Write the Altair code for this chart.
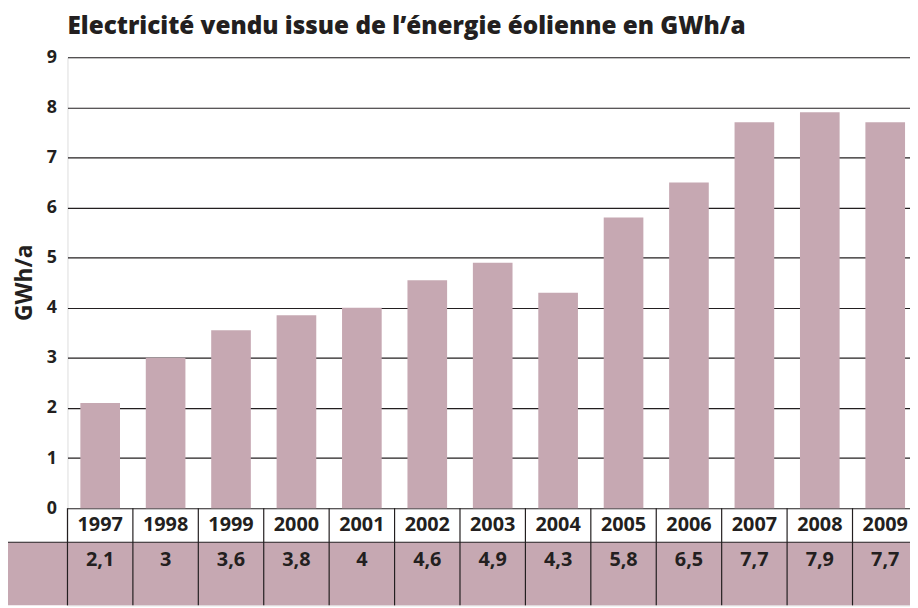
import altair as alt
import pandas as pd

# ---- data ----
years = ["1997", "1998", "1999", "2000", "2001", "2002", "2003",
         "2004", "2005", "2006", "2007", "2008", "2009"]
values = [2.1, 3.0, 3.55, 3.85, 4.0, 4.55, 4.9, 4.3, 5.8, 6.5, 7.7, 7.9, 7.7]
value_labels = ["2,1", "3", "3,6", "3,8", "4", "4,6", "4,9",
                "4,3", "5,8", "6,5", "7,7", "7,9", "7,7"]
y_ticks = [0, 1, 2, 3, 4, 5, 6, 7, 8, 9]

TITLE = "Electricité vendu issue de l’énergie éolienne en GWh/a"
Y_TITLE = "GWh/a"

# ---- layout / style constants ----
FONT = "Open Sans"
INK = "#231f20"
BAR = "#c6a8b2"
ROW_SPLIT = -0.68     # boundary between year row and value row (y units)
TABLE_BOTTOM = -1.94  # bottom of the table (y units)
YEAR_TEXT_Y = -0.34
VALUE_TEXT_Y = -1.04

df = pd.DataFrame({"year": years, "value": values, "label": value_labels})
one = pd.DataFrame({"title": [TITLE]})

x_scale = alt.Scale(domain=years, range=[0, 858], paddingInner=0, paddingOuter=0)
y_scale = alt.Scale(domain=[TABLE_BOTTOM, 9], nice=False, zero=False)

base = alt.Chart(df)

bars = base.mark_bar(color=BAR, width={"band": 40 / 66}).encode(
    x=alt.X("year:N", scale=x_scale, axis=None, sort=years),
    y=alt.Y(
        "value:Q",
        scale=y_scale,
        axis=alt.Axis(
            values=y_ticks,
            grid=True,
            gridColor=INK,
            gridWidth=1.2,
            gridOpacity=1,
            domain=False,
            ticks=False,
            labelPadding=11,
            labelFont=FONT,
            labelFontSize=18,
            labelFontWeight="bold",
            labelColor=INK,
            title=Y_TITLE,
            titleFont=FONT,
            titleFontSize=23,
            titleFontWeight="bold",
            titleColor=INK,
            titleAngle=270,
            titleX=-43,
            titleY=227,
            titleBaseline="middle",
            titleAlign="center",
        ),
    ),
    y2=alt.Y2(datum=0),
)

value_row = alt.Chart(one).mark_rect(color=BAR).encode(
    x=alt.value(-60),
    x2=alt.value(858),
    y=alt.Y(datum=ROW_SPLIT, scale=y_scale),
    y2=alt.Y2(datum=TABLE_BOTTOM),
)

row_line = alt.Chart(one).mark_rule(color=INK, strokeWidth=1.2).encode(
    x=alt.value(-60),
    x2=alt.value(858),
    y=alt.Y(datum=ROW_SPLIT, scale=y_scale),
)

col_lines = base.mark_rule(color=INK, strokeWidth=1.2).encode(
    x=alt.X("year:N", scale=x_scale, axis=None, sort=years, bandPosition=0),
    y=alt.Y(datum=0, scale=y_scale),
    y2=alt.Y2(datum=TABLE_BOTTOM),
)

year_text = base.mark_text(
    font=FONT, fontSize=20, fontWeight="bold", color=INK, baseline="middle"
).encode(
    x=alt.X("year:N", scale=x_scale, axis=None, sort=years),
    y=alt.Y(datum=YEAR_TEXT_Y, scale=y_scale),
    text="year:N",
)

value_text = base.mark_text(
    font=FONT, fontSize=20, fontWeight="bold", color=INK, baseline="middle"
).encode(
    x=alt.X("year:N", scale=x_scale, axis=None, sort=years),
    y=alt.Y(datum=VALUE_TEXT_Y, scale=y_scale),
    text="label:N",
)

title_text = alt.Chart(one).mark_text(
    font=FONT, fontSize=24.5, fontWeight=800, color=INK,
    align="left", baseline="alphabetic",
).encode(
    x=alt.value(0),
    y=alt.value(-23),
    text="title:N",
)

chart = (
    alt.layer(value_row, bars, row_line, col_lines, year_text, value_text, title_text)
    .properties(
        width=850,
        height=553,
        autosize=alt.AutoSizeParams(type="none"),
        padding={"left": 60, "top": 47, "right": 0, "bottom": 0},
    )
    .configure_view(stroke=None)
    .configure(background="white")
)

chart.save("out.html", embed_options={"renderer": "svg", "actions": False})
